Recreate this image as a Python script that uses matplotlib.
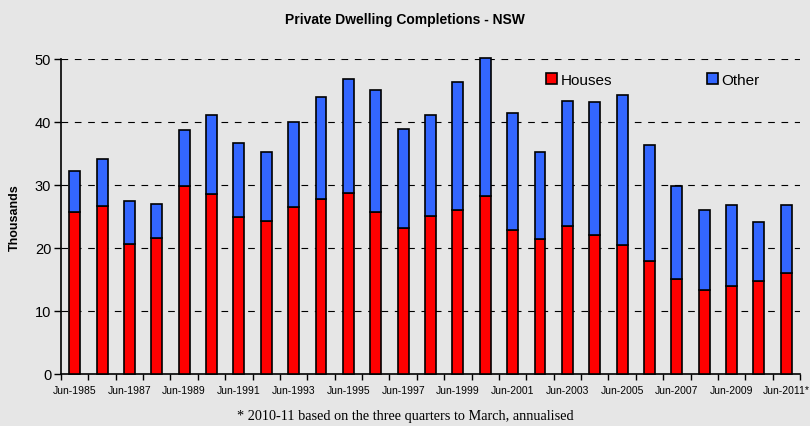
import matplotlib
matplotlib.use("Agg")
import matplotlib.pyplot as plt
import numpy as np

years = list(range(1985, 2012))
houses = [25.7, 26.7, 20.6, 21.6, 29.9, 28.5, 24.9, 24.3, 26.5, 27.8, 28.7, 25.7, 23.2,
          25.1, 26.0, 28.2, 22.9, 21.4, 23.5, 22.1, 20.4, 18.0, 15.1, 13.3, 14.0, 14.7, 16.0]
totals = [32.3, 34.2, 27.4, 27.0, 38.8, 41.1, 36.7, 35.3, 40.0, 44.0, 46.8, 45.1, 38.9,
          41.1, 46.3, 50.1, 41.5, 35.2, 43.4, 43.2, 44.3, 36.3, 29.9, 26.0, 26.9, 24.2, 26.9]
other = [t - h for t, h in zip(totals, houses)]
labels = ["Jun-%d" % y for y in years]
labels[-1] = "Jun-2011*"

bg = "#E6E6E6"
plt.rcParams['font.family'] = ['Liberation Sans', 'DejaVu Sans']
fig = plt.figure(figsize=(8.1, 4.27), dpi=100, facecolor=bg)
ax = fig.add_axes([61/810, 1-375/427, 739/810, 315/427])
ax.set_facecolor(bg)

x = np.arange(len(years))
w = 0.4
ax.bar(x, houses, w, color="#FF0000", edgecolor="black", linewidth=1.2, label="Houses", zorder=3, clip_on=False)
ax.bar(x, other, w, bottom=houses, color="#3366FF", edgecolor="black", linewidth=1.2, label="Other", zorder=3, clip_on=False)

ax.set_xlim(-0.5, len(years) - 0.5)
ax.set_ylim(0, 50)
ax.set_yticks(range(0, 51, 10))
ax.tick_params(axis='y', labelsize=10.5, length=5, width=1, direction='out', pad=2)
for yv in range(10, 51, 10):
    ax.axhline(yv, color="black", linestyle=(0, (6, 6)), linewidth=0.8, zorder=1)

ax.set_xticks(x[::2])
ax.set_xticklabels(labels[::2], fontsize=7.5)
ax.tick_params(axis='x', which='major', length=0, pad=8)
ax.set_xticks(np.arange(-0.5, len(years), 1), minor=True)
ax.tick_params(axis='x', which='minor', length=4, width=1, direction='out')

for s in ['top', 'right']:
    ax.spines[s].set_visible(False)
for s in ['left', 'bottom']:
    ax.spines[s].set_linewidth(1.2)

ax.set_ylabel("Thousands", fontsize=9, fontweight='bold', labelpad=10)
fig.text(0.5, 1-20/427, "Private Dwelling Completions - NSW", ha='center', va='center',
         fontsize=10, fontweight='bold')
fig.text(0.5, 1-417/427, "* 2010-11 based on the three quarters to March, annualised",
         ha='center', va='center', fontsize=10.3, family=['Liberation Serif', 'DejaVu Serif'])

fig.legend(loc='center left', bbox_to_anchor=(546/810, 1-81/427), ncol=2, frameon=False,
           fontsize=11, handlelength=0.72, handleheight=0.72, handletextpad=0.22,
           columnspacing=6.2, borderaxespad=0, borderpad=0)

fig.savefig("out.png", dpi=100, facecolor=bg)
